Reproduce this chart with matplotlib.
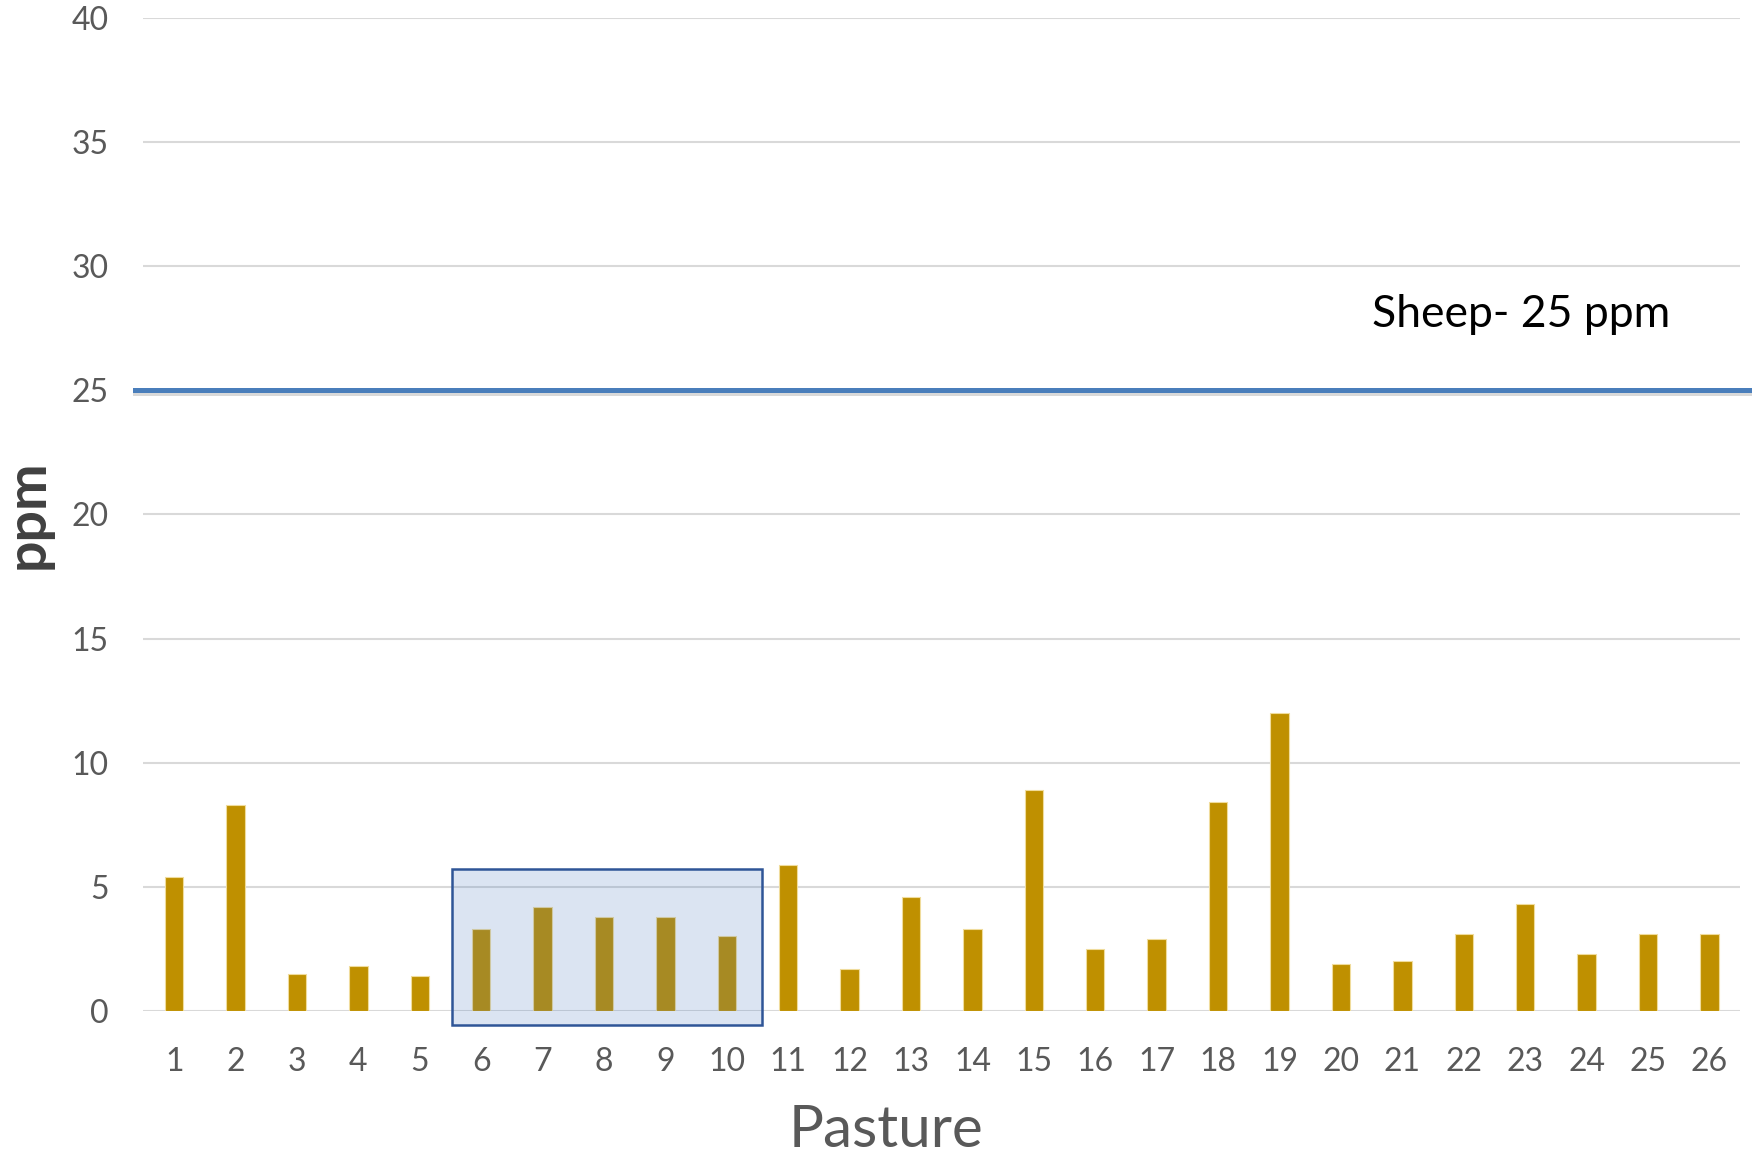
import matplotlib.pyplot as plt
import matplotlib.patheffects as pe
from matplotlib.patches import Rectangle

plt.rcParams['font.family'] = ['Lato', 'DejaVu Sans']

# ppm per pasture
pastures = list(range(1, 27))
ppm = [5.4, 8.3, 1.5, 1.8, 1.4, 3.3, 4.2, 3.8, 3.8, 3.0, 5.9, 1.7, 4.6,
       3.3, 8.9, 2.5, 2.9, 8.4, 12.0, 1.9, 2.0, 3.1, 4.3, 2.3, 3.1, 3.1]
yticks = [0, 5, 10, 15, 20, 25, 30, 35, 40]
sheep_limit = 25
highlight = (6, 10)  # pastures inside the shaded box

fig = plt.figure(figsize=(17.58, 11.55), dpi=100)
ax = fig.add_axes([0.0816, 0.1247, 0.9082, 0.8597])

ax.bar(pastures, ppm, width=0.3, color='#BF9000', edgecolor='#F0DC9C',
       linewidth=0.8, zorder=2)

ax.set_xlim(0.5, 26.5)
ax.set_ylim(0, 40)
ax.set_yticks(yticks)
ax.set_xticks(pastures)
ax.grid(axis='y', color='#D9D9D9', linewidth=1.5, zorder=0)
ax.set_axisbelow(True)
for s in ax.spines.values():
    s.set_visible(False)
ax.tick_params(length=0, labelsize=23, colors='#595959')
ax.tick_params(axis='y', pad=25)
ax.tick_params(axis='x', pad=26)

ax.set_xlabel('Pasture', fontsize=42, color='#595959')
ax.xaxis.label.set_va('center')
ax.xaxis.set_label_coords(0.465, -0.12)
ax.set_ylabel('ppm', fontsize=40, fontweight='bold', color='#404040',
              labelpad=14)

# sheep threshold line, runs slightly past the plot edges
ax.plot([0.36, 26.64], [sheep_limit, sheep_limit], color='#4A7EBB',
        linewidth=3.6, clip_on=False, zorder=3,
        path_effects=[pe.SimpleLineShadow(offset=(0, -2), alpha=0.15),
                      pe.Normal()])
ax.text(22.93, 28.05, 'Sheep- 25 ppm', fontsize=32, color='black',
        ha='center', va='center')

# shaded box around pastures 6-10
x0, x1 = highlight[0] - 0.47, highlight[1] + 0.58
y0, y1 = -0.55, 5.72
ax.add_patch(Rectangle((x0, y0), x1 - x0, y1 - y0, facecolor='#4474BF',
                       alpha=0.19, edgecolor='none', clip_on=False, zorder=4))
ax.add_patch(Rectangle((x0, y0), x1 - x0, y1 - y0, facecolor='none',
                       edgecolor='#2F5597', linewidth=1.8, clip_on=False,
                       zorder=5))

fig.savefig('out.png', dpi=100)
